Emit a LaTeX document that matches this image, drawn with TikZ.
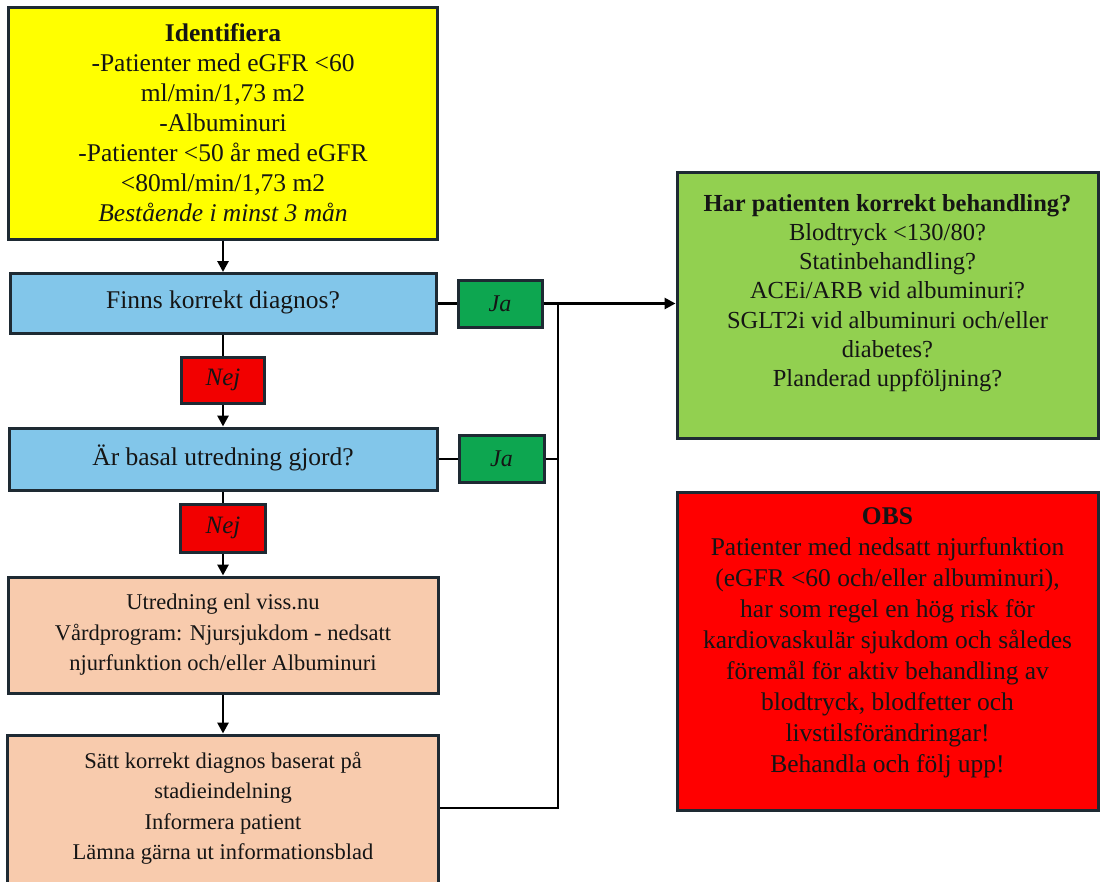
\documentclass[tikz,border=0pt]{standalone}
\usepackage{fontspec}
\setmainfont{Liberation Serif}
\usetikzlibrary{arrows.meta}
\definecolor{bordc}{HTML}{1E2A33}
\definecolor{txtc}{HTML}{151515}
\definecolor{yel}{HTML}{FFFF00}
\definecolor{blu}{HTML}{82C6EA}
\definecolor{jag}{HTML}{0DA650}
\definecolor{nejr}{HTML}{F20000}
\definecolor{sal}{HTML}{F8CBAD}
\definecolor{grn}{HTML}{92D050}
\definecolor{obsr}{HTML}{FF0000}
\tikzset{
  box/.style={draw=bordc, line width=3pt, inner sep=0pt, align=center, text=txtc, rectangle},
  fA/.style={font=\fontsize{25.5}{30}\selectfont},
  fB/.style={font=\fontsize{22.5}{30.5}\selectfont},
  fC/.style={font=\fontsize{24.5}{29.2}\selectfont},
  fD/.style={font=\fontsize{25.5}{31}\selectfont},
  fS/.style={font=\fontsize{24}{27}\selectfont\itshape},
  ln/.style={draw=black, line width=2.8pt},
  arr/.style={ln, -{Triangle[length=11pt,width=11pt]}},
}
\begin{document}
\begin{tikzpicture}[x=1pt,y=-1pt]
\useasboundingbox (0,0) rectangle (1100,881);
\fill[white] (0,0) rectangle (1100,881);
\clip (0,0) rectangle (1100,881);

\node[box, fA, fill=yel, minimum width=429pt, minimum height=232pt] (ident) at (223,123)
  {\textbf{Identifiera}\\-Patienter med eGFR <60\\ml/min/1,73 m2\\-Albuminuri\\-Patienter <50 år med eGFR\\<80ml/min/1,73 m2\\\textit{Bestående i minst 3 mån}};

\node[box, fA, fill=blu, minimum width=426pt, minimum height=60pt] (finns) at (223,303.5) {Finns korrekt diagnos?\\[-22pt]\mbox{}};
\node[box, fS, fill=nejr, minimum width=83pt, minimum height=46pt, font=\fontsize{25}{27}\selectfont\itshape] (nej1) at (223,380) {Nej};
\node[box, fA, fill=blu, minimum width=428pt, minimum height=62pt] (ar) at (223,459) {Är basal utredning gjord?\\[-22pt]\mbox{}};
\node[box, fS, fill=nejr, minimum width=85pt, minimum height=48pt, font=\fontsize{25}{27}\selectfont\itshape] (nej2) at (223,528) {Nej};
\node[box, fB, fill=sal, minimum width=430pt, minimum height=116pt] (utr) at (223,635)
  {Utredning enl viss.nu\\Vårdprogram: Njursjukdom - nedsatt\\njurfunktion och/eller Albuminuri};
\node[box, fB, fill=sal, minimum width=431pt, minimum height=172pt] (satt) at (223,821)
  {Sätt korrekt diagnos baserat på\\stadieindelning\\Informera patient\\Lämna gärna ut informationsblad\\\mbox{}};

\node[box, fS, fill=jag, minimum width=84pt, minimum height=47pt] (ja1) at (500,303.5) {Ja};
\node[box, fS, fill=jag, minimum width=85pt, minimum height=47pt] (ja2) at (501.5,459) {Ja};

\node[box, fC, fill=grn, minimum width=421pt, minimum height=266pt] (green) at (887.5,305)
  {\textbf{Har patienten korrekt behandling?}\\Blodtryck <130/80?\\Statinbehandling?\\ACEi/ARB vid albuminuri?\\SGLT2i vid albuminuri och/eller\\diabetes?\\Planderad uppföljning?\\\mbox{}};

\node[box, fD, fill=obsr, minimum width=421pt, minimum height=318pt] (obs) at (887.5,651)
  {\textbf{OBS}\\Patienter med nedsatt njurfunktion\\(eGFR <60 och/eller albuminuri),\\har som regel en hög risk för\\kardiovaskulär sjukdom och således\\föremål för aktiv behandling av\\blodtryck, blodfetter och\\livstilsförändringar!\\Behandla och följ upp!\\[-10pt]\mbox{}};

\coordinate (jt) at (558,303.5);
\coordinate (jb) at (558,808);

\draw[arr] (ident.south) -- (finns.north);
\draw[ln] (finns.south) -- (nej1.north);
\draw[arr] (nej1.south) -- (ar.north);
\draw[ln] (ar.south) -- (nej2.north);
\draw[arr] (nej2.south) -- (utr.north);
\draw[arr] (utr.south) -- (satt.north);
\draw[ln] (finns.east) -- (ja1.west);
\draw[ln] (ar.east) -- (ja2.west);
\draw[ln] (ja2.east) -- (ja2.east -| jt);
\draw[arr] (ja1.east) -- (green.west |- ja1.east);
\draw[ln] (satt.east |- jb) -- (jb) -- (jt);
\end{tikzpicture}
\end{document}
